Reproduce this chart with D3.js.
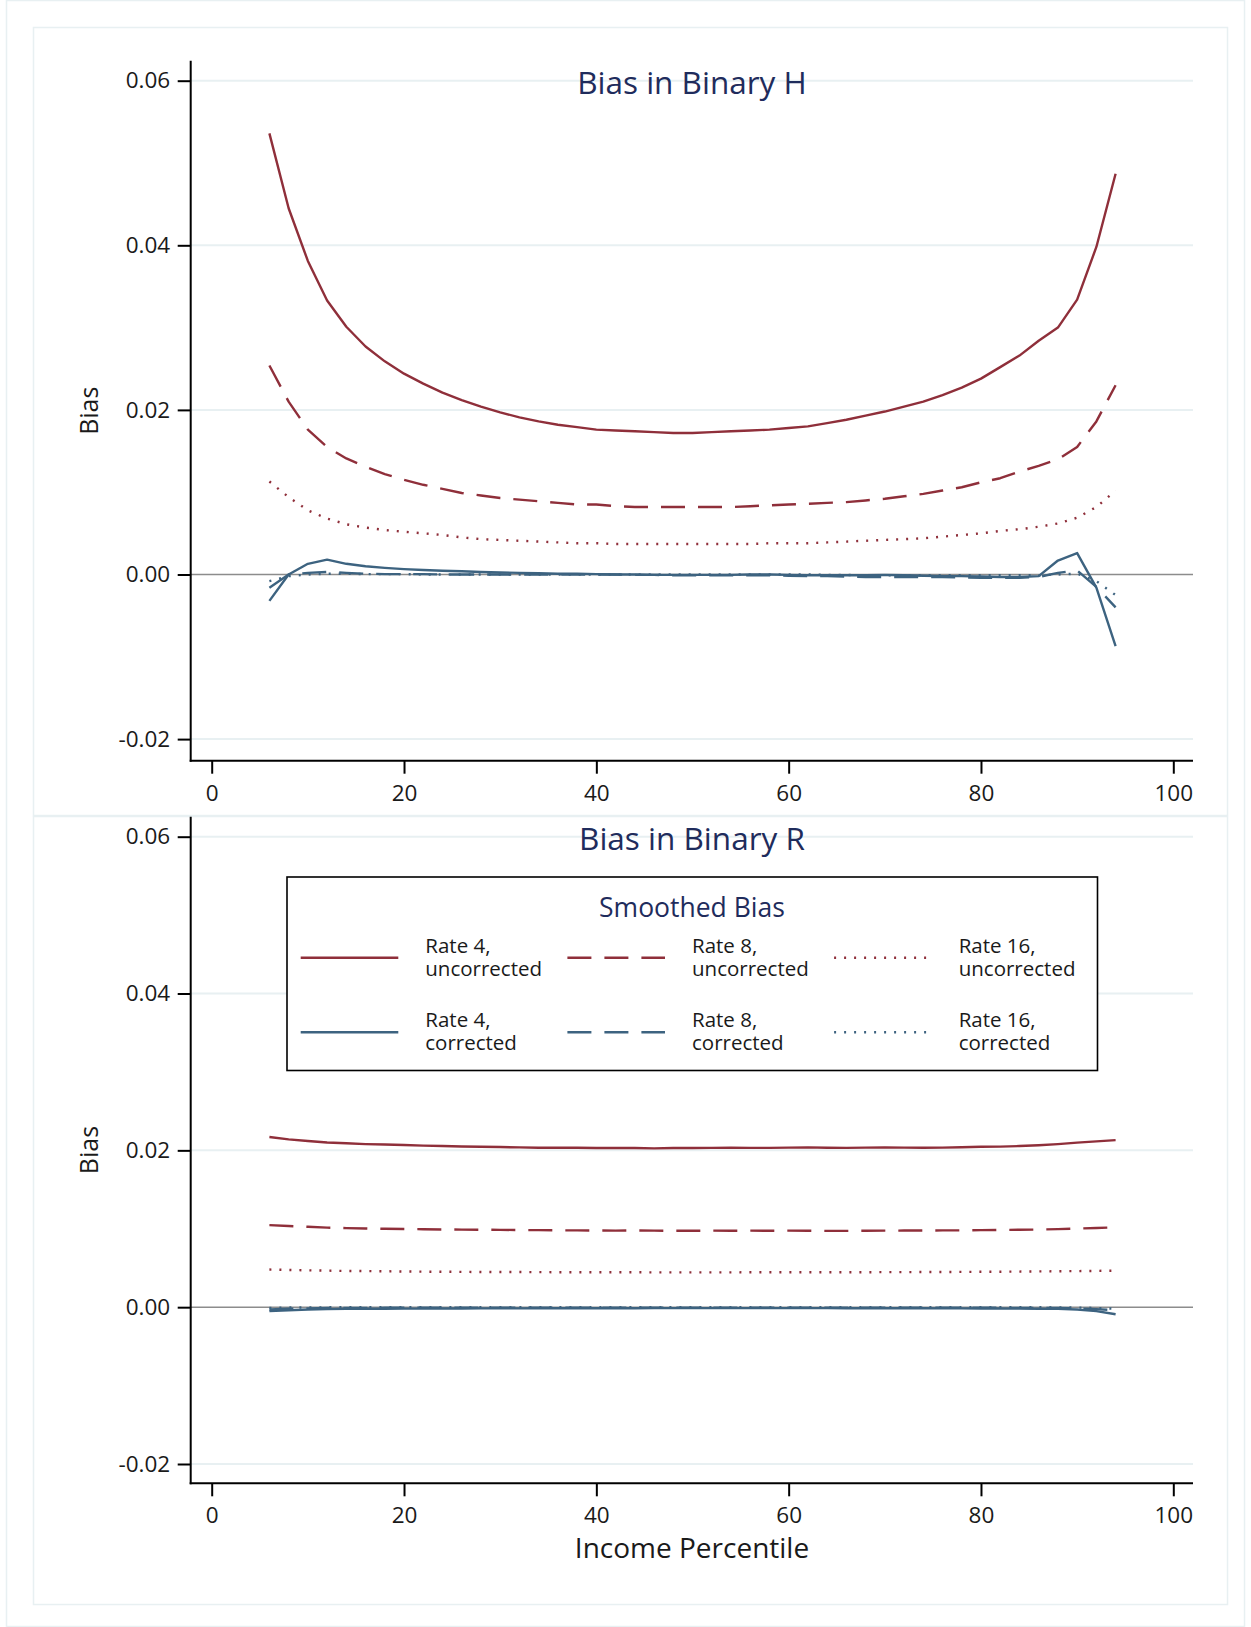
<!DOCTYPE html>
<html>
<head>
<meta charset="utf-8">
<script src="https://cdn.jsdelivr.net/npm/d3@7"></script>
<style>
html,body{margin:0;padding:0;background:#fff;}
svg{display:block;font-family:"Open Sans",sans-serif;}
</style>
</head>
<body>
<svg id="chart" width="1251" height="1627"></svg>
<script>
// ---------------- DATA ----------------
const percentiles = [6,8,10,12,14,16,18,20,22,24,26,28,30,32,34,36,38,40,42,44,46,48,50,52,54,56,58,60,62,64,66,68,70,72,74,76,78,80,82,84,86,88,90,92,94];

const xTicks = [0,20,40,60,80,100];
const yTicks = [-0.02,0,0.02,0.04,0.06];
const yTickLabels = ["-0.02","0.00","0.02","0.04","0.06"];

const panelTitles = ["Bias in Binary H","Bias in Binary R"];
const legendTitle = "Smoothed Bias";
const seriesNames = [["Rate 4,","uncorrected"],["Rate 8,","uncorrected"],["Rate 16,","uncorrected"],
                     ["Rate 4,","corrected"],["Rate 8,","corrected"],["Rate 16,","corrected"]];

// Panel H
const hUncorr4 = [0.0536,0.0445,0.0381,0.0333,0.0301,0.0277,0.0259,0.0244,0.0232,0.0221,
  0.0212,0.0204,0.0197,0.0191,0.0186,0.0182,0.0179,0.0176,0.0175,0.0174,
  0.0173,0.0172,0.0172,0.0173,0.0174,0.0175,0.0176,0.0178,0.0180,0.0184,
  0.0188,0.0193,0.0198,0.0204,0.0210,0.0218,0.0227,0.0238,0.0252,0.0266,
  0.0284,0.0300,0.0334,0.0398,0.0487];
const hUncorr8 = [0.0254,0.0210,0.0176,0.0155,0.0141,0.0131,0.0122,0.0115,0.0109,0.0104,
  0.0099,0.0096,0.0093,0.0091,0.0089,0.0087,0.0085,0.0085,0.0083,0.0082,
  0.0082,0.0082,0.0082,0.0082,0.0082,0.0083,0.0084,0.0085,0.0086,0.0087,
  0.0088,0.0090,0.0092,0.0095,0.0098,0.0102,0.0106,0.0112,0.0117,0.0125,
  0.0132,0.0140,0.0155,0.0186,0.0230];
const hUncorr16 = [0.0113,0.0094,0.0078,0.0068,0.0061,0.0057,0.0054,0.0052,0.0050,0.0048,
  0.0045,0.0043,0.0042,0.0041,0.0040,0.0039,0.0038,0.0038,0.0037,0.0037,
  0.0037,0.0037,0.0037,0.0037,0.0037,0.0037,0.0038,0.0038,0.0038,0.0039,
  0.0040,0.0041,0.0042,0.0043,0.0044,0.0046,0.0048,0.0050,0.0053,0.0055,
  0.0058,0.0062,0.0069,0.0082,0.0102];
const hCorr4 = [-0.0032,0.0000,0.0013,0.0018,0.0013,0.0010,0.0008,0.00065,0.00055,0.00045,
  0.0004,0.0003,0.00025,0.0002,0.00015,0.0001,0.0001,0.00005,0.0000,0.0000,
  -0.00005,-0.00005,-0.00005,-0.00005,-0.00005,0.0000,0.0000,-0.00005,-0.0001,-0.0001,
  -0.0001,-0.0001,-0.00005,-0.0001,-0.00015,-0.0002,-0.0002,-0.00025,-0.0003,-0.0003,
  -0.0002,0.0017,0.0026,-0.0016,-0.0087];
const hCorr8 = [-0.0016,0.0000,0.0002,0.0003,0.0002,0.0001,0.00005,0.00005,0.00005,0.0000,
  0,0,0,0,0,0,0,0,0,-0.00005,
  -0.00005,-0.0001,-0.0001,-0.0001,-0.0001,-0.0001,-0.0001,-0.00015,-0.0002,-0.0002,
  -0.00025,-0.0003,-0.0003,-0.0003,-0.0003,-0.0003,-0.00035,-0.0004,-0.0004,-0.0004,
  -0.0003,0.0002,0.0005,-0.0015,-0.0040];
const hCorr16 = [-0.0008,-0.0002,0.0000,0.0001,0.0001,0.00005,0.00005,0.00005,0,0,
  0,0,0,0,0,0,0,0,0,0,
  0,0,0,0,0,0,0,0,0,-0.00005,
  -0.00005,-0.0001,-0.0001,-0.0001,-0.0001,-0.0001,-0.0001,-0.0001,-0.0001,-0.0001,
  -0.0001,0.0000,0.0001,-0.0008,-0.0025];

// Panel R
const rUncorr4 = [0.0217,0.0214,0.0212,0.0210,0.0209,0.0208,0.02074,0.02068,0.0206,0.02055,
  0.0205,0.02046,0.02042,0.02038,0.02034,0.02034,0.02034,0.0203,0.0203,0.0203,
  0.02025,0.0203,0.0203,0.02032,0.02034,0.02032,0.02032,0.02035,0.02038,0.02034,
  0.02032,0.02035,0.02038,0.02035,0.02034,0.02035,0.0204,0.02045,0.02048,0.02055,
  0.02065,0.0208,0.02098,0.02115,0.0213];
const rUncorr8 = [0.01047,0.01035,0.01025,0.01015,0.01008,0.01004,0.0100,0.00997,0.00994,0.00991,
  0.00989,0.00988,0.00986,0.00984,0.00982,0.0098,0.0098,0.00978,0.00976,0.00978,
  0.00976,0.00975,0.00975,0.00976,0.00975,0.00976,0.00975,0.00976,0.00975,0.00973,
  0.00973,0.00975,0.00976,0.00977,0.00978,0.00979,0.0098,0.00982,0.00984,0.00987,
  0.0099,0.00995,0.01002,0.0101,0.01018];
const rUncorr16 = [0.0048,0.00475,0.0047,0.00466,0.00462,0.0046,0.00458,0.00455,0.00453,0.00452,
  0.0045,0.00449,0.00448,0.00448,0.00447,0.00446,0.00446,0.00445,0.00445,0.00445,
  0.00444,0.00444,0.00444,0.00444,0.00444,0.00445,0.00445,0.00445,0.00445,0.00446,
  0.00446,0.00446,0.00447,0.00447,0.00448,0.00449,0.0045,0.00451,0.00452,0.00454,
  0.00456,0.00458,0.0046,0.00463,0.00466];
const rCorr4 = [-0.0005,-0.0004,-0.0003,-0.00025,-0.0002,-0.0002,-0.0002,-0.00018,-0.00018,-0.00016,
  -0.00016,-0.00015,-0.00015,-0.00015,-0.00014,-0.00014,-0.00014,-0.00013,-0.00013,-0.00013,
  -0.00012,-0.00012,-0.00012,-0.00012,-0.00012,-0.00012,-0.00012,-0.00012,-0.00012,-0.00012,
  -0.00013,-0.00013,-0.00013,-0.00014,-0.00014,-0.00015,-0.00015,-0.00016,-0.00017,-0.00018,
  -0.0002,-0.00022,-0.0003,-0.0005,-0.0009];
const rCorr8 = [-0.0003,-0.0002,-0.00015,-0.0001,-0.0001,-0.0001,-0.00008,-0.00008,-0.00008,-0.00007,
  -0.00007,-0.00007,-0.00007,-0.00006,-0.00006,-0.00006,-0.00006,-0.00006,-0.00006,-0.00006,
  -0.00006,-0.00006,-0.00006,-0.00006,-0.00006,-0.00006,-0.00006,-0.00006,-0.00006,-0.00006,
  -0.00006,-0.00006,-0.00007,-0.00007,-0.00007,-0.00007,-0.00008,-0.00008,-0.00008,-0.00009,
  -0.0001,-0.0001,-0.00015,-0.00025,-0.0004];
const rCorr16 = [-0.0001,-0.00005,-0.00003,-0.00002,0,0,0,0,0,0,
  0,0,0,0,0,0,0,0,0,0,
  0,0,0,0,0,0,0,0,0,0,
  0,0,0,0,0,0,0,0,0,0,
  0,-0.00003,-0.00005,-0.0001,-0.0002];

// ---------------- STYLE ----------------
const RED = "#8f2f3a", BLUE = "#3d6380";
const NAVY = "#1f2c5c", TXT = "#1a1a1a";
const GRID = "#e8f0f2";
const styles = [
  {color:RED,  dash:null},
  {color:RED,  dash:"24,13"},
  {color:RED,  dash:"2,8"},
  {color:BLUE, dash:null},
  {color:BLUE, dash:"24,13"},
  {color:BLUE, dash:"2,8"}
];

const svg = d3.select("#chart");

// outer frame
svg.append("rect").attr("x",6.5).attr("y",0.5).attr("width",1238).attr("height",1626)
  .attr("fill","none").attr("stroke",GRID).attr("stroke-width",1.5);

const panels = [
  {frame:[33,27,1194,788], yTop:60.7, yBot:760.7, yRange:[739.1,80.7], title:panelTitles[0], titleY:81,
   series:[hUncorr4,hUncorr8,hUncorr16,hCorr4,hCorr8,hCorr16], xlabel:false},
  {frame:[33,816,1194,788], yTop:816.7, yBot:1483.3, yRange:[1464,836.7], title:panelTitles[1], titleY:837,
   series:[rUncorr4,rUncorr8,rUncorr16,rCorr4,rCorr8,rCorr16], xlabel:true}
];

const xLeft = 190.7, xRight = 1193;
const x = d3.scaleLinear().domain([0,100]).range([211.7,1173.3]);

panels.forEach(p => {
  const g = svg.append("g");
  g.append("rect").attr("x",p.frame[0]+0.5).attr("y",p.frame[1]+0.5)
    .attr("width",p.frame[2]).attr("height",p.frame[3])
    .attr("fill","none").attr("stroke",GRID).attr("stroke-width",1.5);

  const y = d3.scaleLinear().domain([-0.02,0.06]).range(p.yRange);

  // grid
  g.selectAll("line.grid").data(yTicks.filter(v=>v!==0)).join("line")
    .attr("x1",xLeft).attr("x2",xRight)
    .attr("y1",d=>y(d)).attr("y2",d=>y(d))
    .attr("stroke",GRID).attr("stroke-width",2);
  // zero line
  g.append("line").attr("x1",xLeft).attr("x2",xRight).attr("y1",y(0)).attr("y2",y(0))
    .attr("stroke","#8c8c8c").attr("stroke-width",1.6);

  // series
  const line = d3.line().x((d,i)=>x(percentiles[i])).y(d=>y(d));
  p.series.forEach((s,k)=>{
    g.append("path").datum(s).attr("d",line)
      .attr("fill","none").attr("stroke",styles[k].color).attr("stroke-width",2.4)
      .attr("stroke-dasharray",styles[k].dash).attr("stroke-linejoin","round");
  });

  // y axis
  const yAxis = d3.axisLeft(y).tickValues(yTicks).tickSize(13).tickPadding(7.5)
    .tickFormat((d,i)=>yTickLabels[yTicks.indexOf(d)]);
  const ya = g.append("g").attr("transform",`translate(${xLeft},0)`).call(yAxis);
  ya.select(".domain").remove();
  ya.selectAll(".tick line").attr("stroke","#000").attr("stroke-width",2);
  ya.selectAll(".tick text").attr("font-size",22.5).attr("fill",TXT).attr("font-family","Open Sans");
  g.append("line").attr("x1",xLeft).attr("x2",xLeft).attr("y1",p.yTop).attr("y2",p.yBot+1)
    .attr("stroke","#000").attr("stroke-width",2);

  // x axis
  const xAxis = d3.axisBottom(x).tickValues(xTicks).tickSize(13).tickPadding(11);
  const xa = g.append("g").attr("transform",`translate(0,${p.yBot})`).call(xAxis);
  xa.select(".domain").remove();
  xa.selectAll(".tick line").attr("stroke","#000").attr("stroke-width",2);
  xa.selectAll(".tick text").attr("font-size",22.5).attr("fill",TXT).attr("font-family","Open Sans");
  g.append("line").attr("x1",xLeft-1).attr("x2",xRight).attr("y1",p.yBot).attr("y2",p.yBot)
    .attr("stroke","#000").attr("stroke-width",2);

  // titles
  g.append("text").attr("x",692).attr("y",p.titleY).attr("text-anchor","middle")
    .attr("dominant-baseline","central").attr("font-size",31.5).attr("fill",NAVY).text(p.title);
  g.append("text").attr("transform",`translate(88,${(p.yTop+p.yBot)/2}) rotate(-90)`)
    .attr("text-anchor","middle").attr("dominant-baseline","central")
    .attr("font-size",25).attr("fill",TXT).text("Bias");
  if (p.xlabel) {
    g.append("text").attr("x",692).attr("y",1547).attr("text-anchor","middle")
      .attr("dominant-baseline","central").attr("font-size",28).attr("fill",TXT).text("Income Percentile");
  }
});

// legend
const lg = svg.append("g");
lg.append("rect").attr("x",287).attr("y",877).attr("width",810.5).attr("height",193.5)
  .attr("fill","#fff").attr("stroke","#000").attr("stroke-width",1.6);
lg.append("text").attr("x",692).attr("y",906.5).attr("text-anchor","middle")
  .attr("dominant-baseline","central").attr("font-size",26.5).attr("fill",NAVY).text(legendTitle);
const colX = [300.7,567.4,834.1];
const rowY = [957.7,1032.3];
seriesNames.forEach((nm,k)=>{
  const c = k%3, r = Math.floor(k/3);
  lg.append("line").attr("x1",colX[c]).attr("x2",colX[c]+97.6)
    .attr("y1",rowY[r]).attr("y2",rowY[r])
    .attr("stroke",styles[k].color).attr("stroke-width",2.4)
    .attr("stroke-dasharray",styles[k].dash);
  const t = lg.append("text").attr("x",colX[c]+124.6).attr("font-size",20.5).attr("fill",TXT);
  t.append("tspan").attr("x",colX[c]+124.6).attr("y",rowY[r]-13).attr("dominant-baseline","central").text(nm[0]);
  t.append("tspan").attr("x",colX[c]+124.6).attr("y",rowY[r]+10).attr("dominant-baseline","central").text(nm[1]);
});
</script>
</body>
</html>
